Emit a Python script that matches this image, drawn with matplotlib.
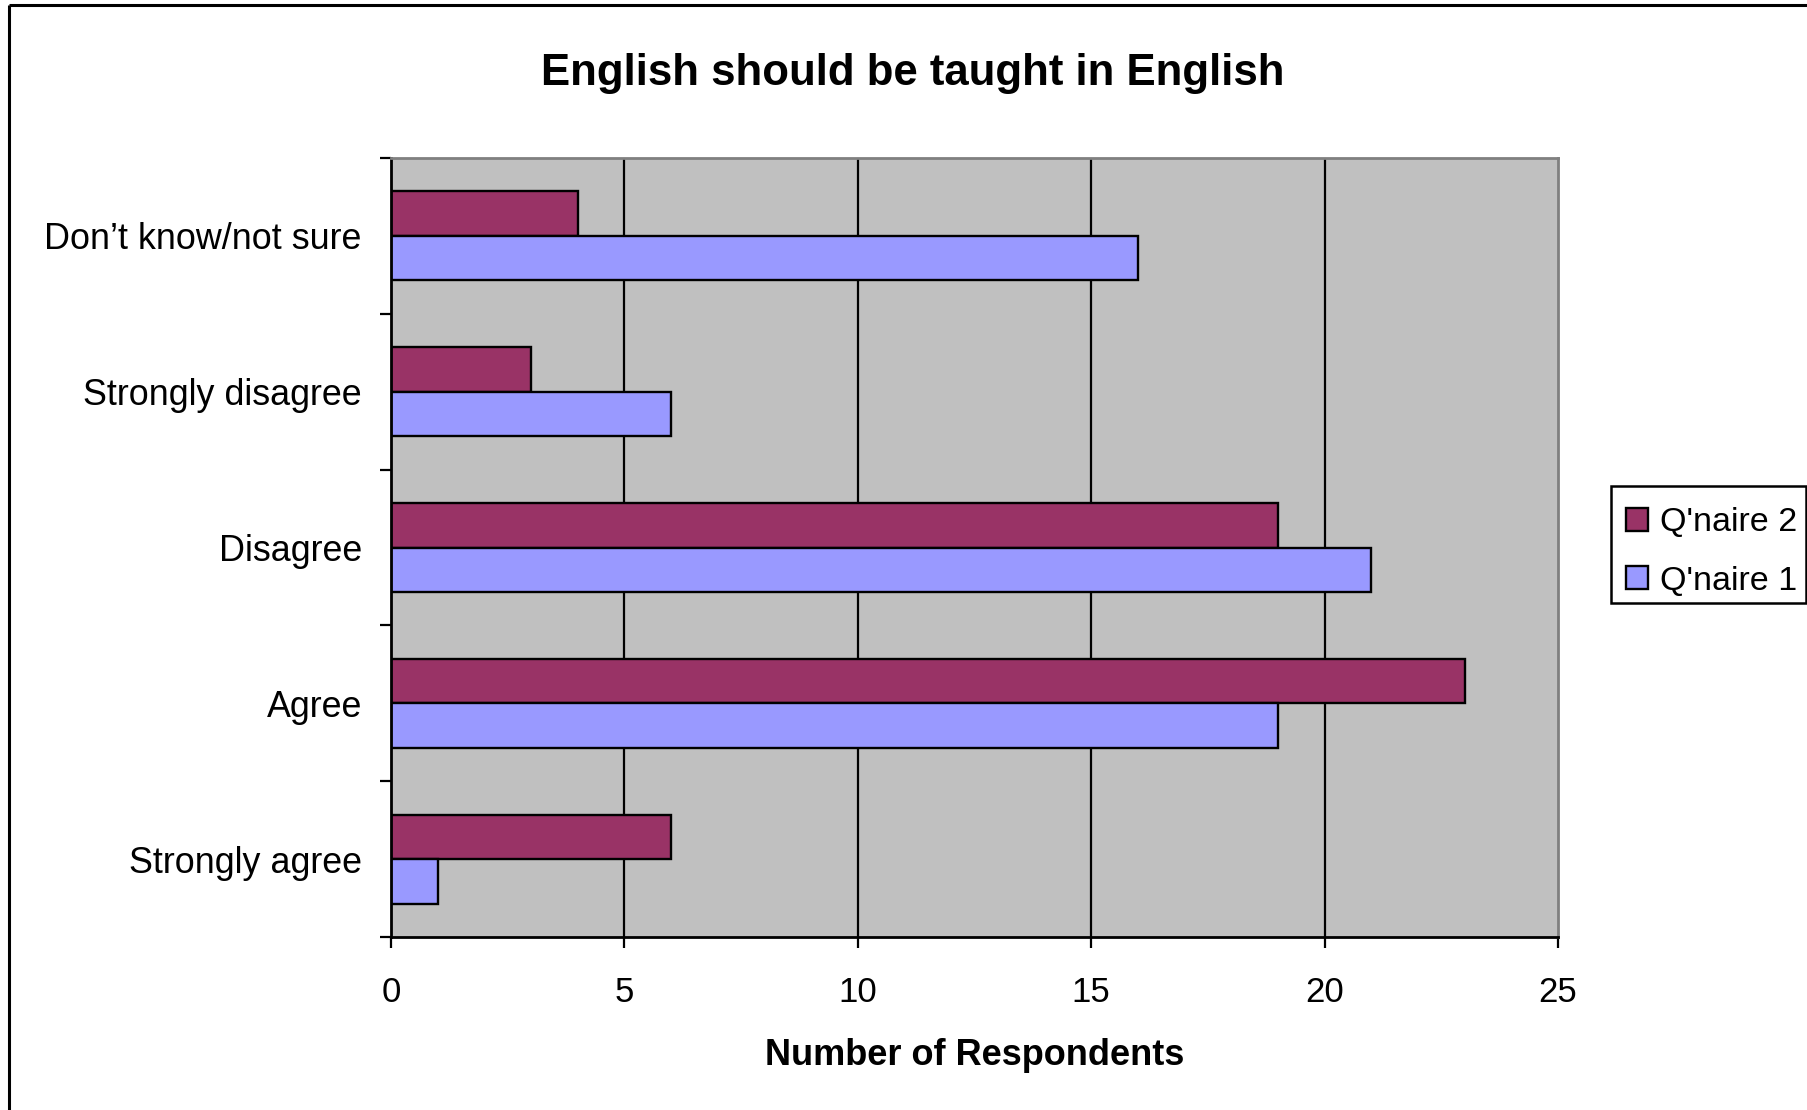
import matplotlib
matplotlib.use("Agg")
import matplotlib.pyplot as plt
import numpy as np
from matplotlib.lines import Line2D
from matplotlib.patches import Rectangle

plt.rcParams['font.family'] = ['Liberation Sans', 'DejaVu Sans']

# Survey responses (bottom to top on the chart)
categories = ["Strongly agree", "Agree", "Disagree", "Strongly disagree", "Don\u2019t know/not sure"]
qnaire2 = [6, 23, 19, 3, 4]
qnaire1 = [1, 19, 21, 6, 16]
series_names = ["Q'naire 2", "Q'naire 1"]
x_ticks = [0, 5, 10, 15, 20, 25]

W, H = 1808, 1110
fig = plt.figure(figsize=(W / 100, H / 100), dpi=100)
fig.patch.set_facecolor("white")

# outer chart frame (top and left edges)
fig.add_artist(Line2D([9 / W, 9 / W], [0, 1 - 5 / H], transform=fig.transFigure,
                      color="black", lw=2.2, solid_capstyle="butt"))
fig.add_artist(Line2D([9 / W, 1], [1 - 5 / H, 1 - 5 / H], transform=fig.transFigure,
                      color="black", lw=2.2, solid_capstyle="butt"))

left, right, top, bottom = 391, 1558, 158, 937
ax = fig.add_axes([left / W, 1 - bottom / H, (right - left) / W, (bottom - top) / H])
ax.set_facecolor("#C0C0C0")

y = np.arange(len(categories))
h = 1 / 3.5
c2 = "#993366"
c1 = "#9999FF"

for xv in x_ticks[1:-1]:
    ax.axvline(xv, color="black", lw=1.6, zorder=1)

ax.barh(y + h / 2, qnaire2, height=h, color=c2, edgecolor="black", lw=1.7,
        zorder=2, label=series_names[0])
ax.barh(y - h / 2, qnaire1, height=h, color=c1, edgecolor="black", lw=1.7,
        zorder=2, label=series_names[1])

ax.set_xlim(0, 25)
ax.set_ylim(-0.5, len(categories) - 0.5)

ax.set_xticks(x_ticks)
ax.set_xticklabels([str(v) for v in x_ticks], fontsize=25)
ax.tick_params(axis="x", direction="out", length=8, width=1.6, pad=20, colors="black")

# category boundaries carry the tick marks, centers carry the labels
ax.set_yticks(np.arange(-0.5, len(categories)), labels=[""] * (len(categories) + 1))
ax.set_yticks(y, labels=categories, minor=True)
ax.tick_params(axis="y", which="major", direction="out", length=8, width=1.6)
ax.tick_params(axis="y", which="minor", length=0, pad=21, labelsize=25.8)

for side in ["left", "bottom"]:
    ax.spines[side].set_color("black")
    ax.spines[side].set_linewidth(2.0)
for side in ["top", "right"]:
    ax.spines[side].set_color("#808080")
    ax.spines[side].set_linewidth(2.0)

ax.set_xlabel("Number of Respondents", fontsize=26, fontweight="bold", labelpad=21)

fig.text(913 / W, 1 - 73 / H, "English should be taught in English", fontsize=31.5,
         fontweight="bold", ha="center", va="center")

# legend box
fig.add_artist(Rectangle((1611 / W, 1 - 603 / H), (1806 - 1611) / W, (603 - 486) / H,
                         transform=fig.transFigure, facecolor="none",
                         edgecolor="black", lw=1.8))
leg = ax.legend(loc="upper left", bbox_to_anchor=(1611 / W, 1 - 492 / H),
                bbox_transform=fig.transFigure, fontsize=24.5, frameon=False,
                borderaxespad=0, handlelength=0.65, handleheight=0.65,
                handletextpad=0.35, borderpad=0.45, labelspacing=0.8)

fig.savefig("out.png", dpi=100, facecolor="white")
